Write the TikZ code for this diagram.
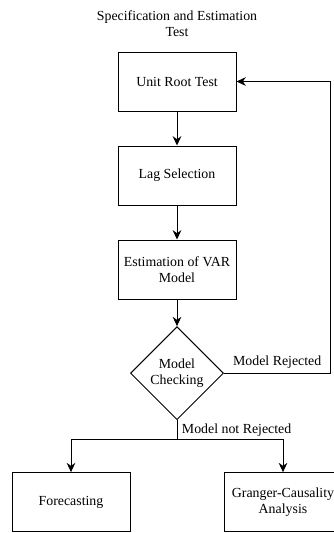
\documentclass[tikz,border=0pt]{standalone}
\usepackage{fontspec}
\setmainfont{Liberation Serif}
\usetikzlibrary{shapes.geometric, arrows.meta, positioning}

\begin{document}
\begin{tikzpicture}[x=0.75pt,y=0.75pt,>={Stealth[length=7pt,width=6.5pt]},line width=0.75pt,
        font=\fontsize{10.4}{12}\selectfont,
        block/.style={draw, rectangle, minimum width=88.5pt, minimum height=44.25pt, align=center},
        decision/.style={draw, diamond, aspect=1, minimum width=69.75pt, minimum height=69.75pt, inner sep=0pt, align=center}]

        \useasboundingbox (0,0) rectangle (334,-533);

        \node[align=center] (title) at (177,-24) {Specification and Estimation\\Test};
        \node[block] (unit) at (177,-81.5) {Unit Root Test};
        \node[block] (lag) [below=25.5pt of unit] {Lag Selection};
        \node[block] (var) [below=25.5pt of lag] {Estimation of VAR\\Model};
        \node[decision] (check) [below=20pt of var] {Model\\Checking};
        \node[block] (fore) [below=39pt of check, xshift=-79.5pt] {Forecasting};
        \node[block] (granger) [below=39pt of check, xshift=79.5pt] {Granger-Causality\\Analysis};

        \coordinate[right=115pt of check.center] (back);
        \coordinate[below=14.25pt of check] (split);

        \draw[->] (unit) -- (lag);
        \draw[->] (lag) -- (var);
        \draw[->] (var) -- (check);
        \draw[->] (check.east) -- node[above] {Model Rejected} (back) |- (unit.east);
        \draw (check.south) -- node[right] {Model not Rejected} (split);
        \draw[->] (split) -| (fore);
        \draw[->] (split) -| (granger);
\end{tikzpicture}
\end{document}
